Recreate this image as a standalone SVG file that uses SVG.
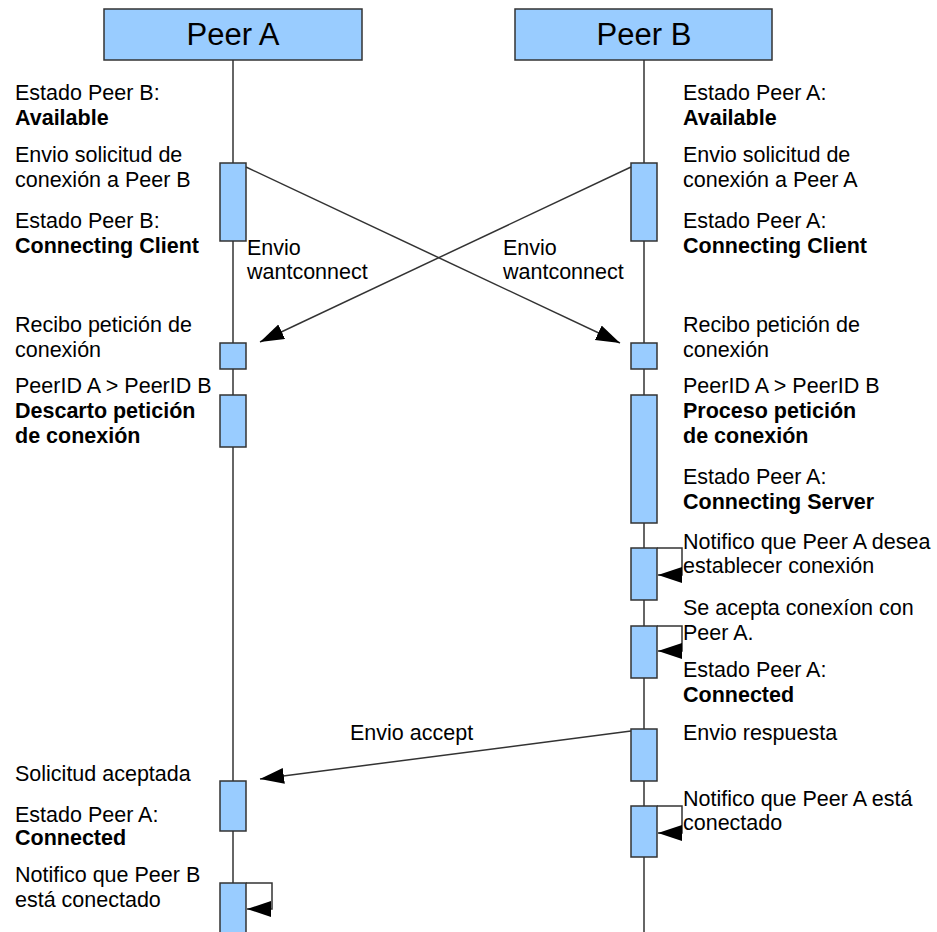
<svg xmlns="http://www.w3.org/2000/svg" width="937" height="932" viewBox="0 0 937 932">
  <style>
    .hdr { fill: #99ccff; stroke: #333333; stroke-width: 1.5; }
    .act { fill: #99ccff; stroke: #333333; stroke-width: 1.5; }
    .life { stroke: #333333; stroke-width: 1.5; fill: none; }
    .msg { stroke: #333333; stroke-width: 1.5; fill: none; marker-end: url(#arrow); }
    text { font-family: "Liberation Sans", Arial, sans-serif; font-size: 21.5px; fill: #000000; }
    .title { font-size: 31px; text-anchor: middle; }
    .b { font-weight: bold; }
  </style>
  <defs>
    <marker id="arrow" markerUnits="userSpaceOnUse" markerWidth="26" markerHeight="18" refX="24" refY="8" orient="auto">
      <path d="M0,0 L24,8 L0,16 Z" fill="#000000"/>
    </marker>
  </defs>
  <rect width="937" height="932" fill="#ffffff"/>

  <!-- lifelines -->
  <g id="lifelines">
    <line class="life" x1="233" y1="60" x2="233" y2="932"/>
    <line class="life" x1="644" y1="60" x2="644" y2="932"/>
  </g>

  <!-- participants -->
  <g id="peer-a">
    <rect class="hdr" x="104" y="9" width="258" height="51"/>
    <text class="title" x="233" y="45">Peer A</text>
  </g>
  <g id="peer-b">
    <rect class="hdr" x="515" y="9" width="257" height="51"/>
    <text class="title" x="644" y="45">Peer B</text>
  </g>

  <!-- activations on Peer A -->
  <g id="a-send-request"><rect class="act" x="220" y="163" width="26" height="78"/></g>
  <g id="a-receive-request"><rect class="act" x="220" y="343" width="26" height="26"/></g>
  <g id="a-discard-request"><rect class="act" x="220" y="395" width="26" height="52"/></g>
  <g id="a-accepted"><rect class="act" x="220" y="781" width="26" height="50"/></g>
  <g id="a-notify-connected"><rect class="act" x="220" y="883" width="26" height="60"/></g>

  <!-- activations on Peer B -->
  <g id="b-send-request"><rect class="act" x="631" y="163" width="26" height="78"/></g>
  <g id="b-receive-request"><rect class="act" x="631" y="343" width="26" height="26"/></g>
  <g id="b-process-request"><rect class="act" x="631" y="395" width="26" height="128"/></g>
  <g id="b-notify-wants"><rect class="act" x="631" y="548" width="26" height="52"/></g>
  <g id="b-accept"><rect class="act" x="631" y="626" width="26" height="52"/></g>
  <g id="b-send-reply"><rect class="act" x="631" y="729" width="26" height="52"/></g>
  <g id="b-notify-connected"><rect class="act" x="631" y="806" width="26" height="51"/></g>

  <!-- messages -->
  <g id="connectors">
    <line class="msg" x1="246" y1="167" x2="620" y2="343"/>
    <line class="msg" x1="631" y1="167" x2="260" y2="342"/>
    <line class="msg" x1="631" y1="731" x2="260" y2="779"/>
    <path class="msg" d="M657,548 H682 V575 H658"/>
    <path class="msg" d="M657,626 H682 V651 H658"/>
    <path class="msg" d="M657,806 H682 V833 H658"/>
    <path class="msg" d="M246,883 H272 V909 H247"/>
  </g>

  <!-- message labels -->
  <g id="labels-messages">
    <text x="247" y="255">Envio</text>
    <text x="247" y="279">wantconnect</text>
    <text x="503" y="255">Envio</text>
    <text x="503" y="279">wantconnect</text>
    <text x="350" y="740">Envio accept</text>
  </g>

  <!-- Peer A notes -->
  <g id="notes-a">
    <text x="15" y="100">Estado Peer B:</text>
    <text class="b" x="15" y="125">Available</text>
    <text x="15" y="162">Envio solicitud de</text>
    <text x="15" y="187">conexión a Peer B</text>
    <text x="15" y="228">Estado Peer B:</text>
    <text class="b" x="15" y="253">Connecting Client</text>
    <text x="15" y="332">Recibo petición de</text>
    <text x="15" y="357">conexión</text>
    <text x="15" y="393">PeerID A &gt; PeerID B</text>
    <text class="b" x="15" y="418">Descarto petición</text>
    <text class="b" x="15" y="443">de conexión</text>
    <text x="15" y="781">Solicitud aceptada</text>
    <text x="15" y="822">Estado Peer A:</text>
    <text class="b" x="15" y="845">Connected</text>
    <text x="15" y="882">Notifico que Peer B</text>
    <text x="15" y="907">está conectado</text>
  </g>

  <!-- Peer B notes -->
  <g id="notes-b">
    <text x="683" y="100">Estado Peer A:</text>
    <text class="b" x="683" y="125">Available</text>
    <text x="683" y="162">Envio solicitud de</text>
    <text x="683" y="187">conexión a Peer A</text>
    <text x="683" y="228">Estado Peer A:</text>
    <text class="b" x="683" y="253">Connecting Client</text>
    <text x="683" y="332">Recibo petición de</text>
    <text x="683" y="357">conexión</text>
    <text x="683" y="393">PeerID A &gt; PeerID B</text>
    <text class="b" x="683" y="418">Proceso petición</text>
    <text class="b" x="683" y="443">de conexión</text>
    <text x="683" y="484">Estado Peer A:</text>
    <text class="b" x="683" y="509">Connecting Server</text>
    <text x="683" y="549">Notifico que Peer A desea</text>
    <text x="683" y="573">establecer conexión</text>
    <text x="683" y="615">Se acepta conexíon con</text>
    <text x="683" y="640">Peer A.</text>
    <text x="683" y="677">Estado Peer A:</text>
    <text class="b" x="683" y="702">Connected</text>
    <text x="683" y="740">Envio respuesta</text>
    <text x="683" y="806">Notifico que Peer A está</text>
    <text x="683" y="830">conectado</text>
  </g>
</svg>
